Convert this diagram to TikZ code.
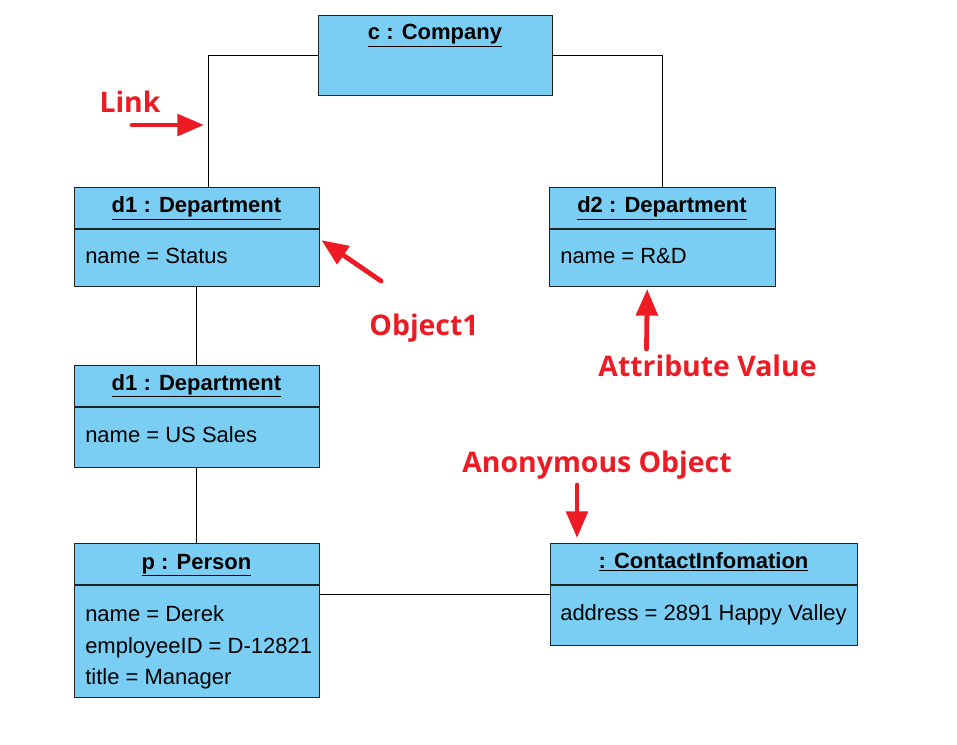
\documentclass[tikz,border=0pt]{standalone}
\usepackage{fontspec}
\setmainfont{Liberation Sans}
\newfontfamily\notefont{Open Sans}
\usetikzlibrary{arrows.meta,calc}
\definecolor{objblue}{RGB}{122,206,243}
\definecolor{notered}{RGB}{237,28,36}
\definecolor{edge}{RGB}{34,34,34}
\tikzset{
  objbox/.style={draw=edge, fill=objblue, line width=1.1pt, anchor=north west, inner sep=0pt},
  divline/.style={draw=edge, line width=1.1pt},
  link/.style={draw=black, line width=1pt},
  ttl/.style={anchor=base, inner sep=0pt, font=\fontsize{16.5}{19}\selectfont\bfseries},
  attr/.style={anchor=base west, inner sep=0pt, font=\fontsize{16.5}{19}\selectfont},
  note/.style={anchor=base, inner sep=0pt, text=notered, font=\notefont\fontsize{21.3}{25}\selectfont\bfseries},
  notearrow/.style={draw=notered, line width=3.6pt, line cap=round, -{Triangle[length=20pt,width=16pt]}},
}
\begin{document}
\begin{tikzpicture}[x=0.75pt,y=-0.75pt]
\path[use as bounding box] (0,0) rectangle (957,745);

% boxes
\node[objbox, minimum width=175.5pt, minimum height=60pt] (comp) at (318,15) {};
\node[objbox, minimum width=183.75pt, minimum height=74.25pt] (d1) at (74,187) {};
\node[objbox, minimum width=169.5pt, minimum height=74.25pt] (d2) at (549,187) {};
\node[objbox, minimum width=183.75pt, minimum height=76.5pt] (d1b) at (74,365) {};
\node[objbox, minimum width=183.75pt, minimum height=115.5pt] (per) at (74,543) {};
\node[objbox, minimum width=230.25pt, minimum height=76.5pt] (ci) at (550,543) {};

% dividers
\draw[divline] ($(d1.north west)+(0,42)$) -- ($(d1.north east)+(0,42)$);
\draw[divline] ($(d2.north west)+(0,42)$) -- ($(d2.north east)+(0,42)$);
\draw[divline] ($(d1b.north west)+(0,42)$) -- ($(d1b.north east)+(0,42)$);
\draw[divline] ($(per.north west)+(0,42)$) -- ($(per.north east)+(0,42)$);
\draw[divline] ($(ci.north west)+(0,42)$) -- ($(ci.north east)+(0,42)$);

% texts
\node[ttl] (tcomp) at (435,40) {\underline{c : Company}};
\node[ttl] (td1) at (196.5,213) {\underline{d1 : Department}};
\node[attr] (ad1) at (85,264) {name = Status};
\node[ttl] (td2) at (662,213) {\underline{d2 : Department}};
\node[attr] (ad2) at (560,264) {name = R\&D};
\node[ttl] (td1b) at (196.5,390) {\underline{d1 : Department}};
\node[attr] (ad1b) at (85,442) {name = US Sales};
\node[ttl] (tper) at (196.5,569) {\underline{p : Person}};
\node[attr] (aper1) at (85,621) {name = Derek};
\node[attr] (aper2) at (85,653) {employeeID = D-12821};
\node[attr] (aper3) at (85,684) {title = Manager};
\node[ttl] (tci) at (703.5,568) {\underline{: ContactInfomation}};
\node[attr] (aci) at (560,620) {address = 2891 Happy Valley};

% links
\draw[link] (comp.west) -| ($(d1.north)+(11.5,0)$);
\draw[link] (comp.east) -| (d2.north);
\draw[link] ($(d1.south)+(-0.5,0)$) -- ($(d1b.north)+(-0.5,0)$);
\draw[link] ($(d1b.south)+(-0.5,0)$) -- ($(per.north)+(-0.5,0)$);
\draw[link] (per.east |- ci.west) -- (ci.west);

% annotations
\node[note] (nlink) at (130,113) {Link};
\node[note] (nobj) at (424,335) {Object1};
\node[note] (nattr) at (707.5,377) {Attribute Value};
\node[note] (nanon) at (597,472) {Anonymous Object};

\coordinate (s1) at (132,125);
\coordinate (e1) at (204,125);
\coordinate (s2) at (381,281);
\coordinate (s3) at (646.5,349);
\coordinate (s4) at (577,485);
\draw[notearrow] (s1) -- (e1);
\draw[notearrow] (s2) -- ($(d1.east)+(1,3)$);
\draw[notearrow] (s3) -- ($(d2.south)+(-15.5,1.5)$);
\draw[notearrow] (s4) -- ($(ci.north west)+(27,-5)$);
\end{tikzpicture}
\end{document}
